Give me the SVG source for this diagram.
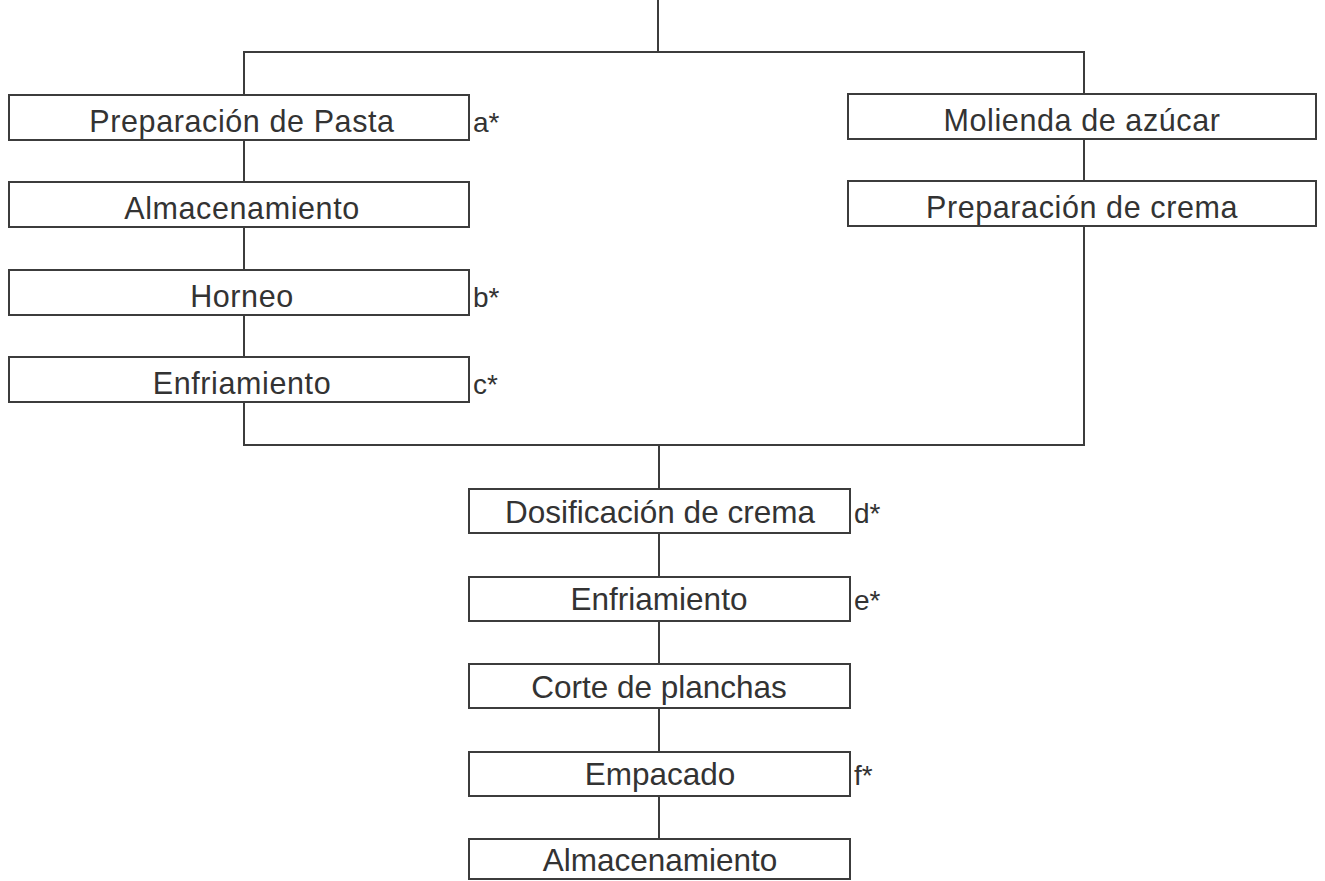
<svg xmlns="http://www.w3.org/2000/svg" width="1325" height="881" viewBox="0 0 1325 881">
<style>
.box{fill:#ffffff;stroke:#3c3c3c;stroke-width:2}
.ln{fill:none;stroke:#3c3c3c;stroke-width:2}
.t1{font-family:"Liberation Sans",Arial,sans-serif;font-size:30.5px;letter-spacing:0.6px;fill:#333;text-anchor:middle}
.t2{font-family:"Liberation Sans",Arial,sans-serif;font-size:31.5px;fill:#333;text-anchor:middle}
.lb{font-family:"Liberation Sans",Arial,sans-serif;font-size:28px;fill:#333}
</style>
<rect x="0" y="0" width="1325" height="881" fill="#ffffff"/>
<g id="connectors">
<path class="ln" d="M658,0 V52"/>
<path class="ln" d="M244,95 V52 H1084 V94"/>
<path class="ln" d="M244,140 V182"/>
<path class="ln" d="M244,227 V270"/>
<path class="ln" d="M244,315 V357"/>
<path class="ln" d="M244,402 V445 H1084 V226"/>
<path class="ln" d="M1084,139 V181"/>
<path class="ln" d="M659,445 V489"/>
<path class="ln" d="M659,533 V577"/>
<path class="ln" d="M659,621 V664"/>
<path class="ln" d="M659,708 V752"/>
<path class="ln" d="M659,796 V839"/>
</g>
<g id="n1"><rect class="box" x="9" y="95" width="460" height="45"/><text class="t1" x="242" y="132">Preparación de Pasta</text><text class="lb" x="473" y="132">a*</text></g>
<g id="n2"><rect class="box" x="9" y="182" width="460" height="45"/><text class="t1" x="242" y="219">Almacenamiento</text></g>
<g id="n3"><rect class="box" x="9" y="270" width="460" height="45"/><text class="t1" x="242" y="307">Horneo</text><text class="lb" x="473" y="307">b*</text></g>
<g id="n4"><rect class="box" x="9" y="357" width="460" height="45"/><text class="t1" x="242" y="394">Enfriamiento</text><text class="lb" x="473" y="394">c*</text></g>
<g id="n5"><rect class="box" x="848" y="94" width="468" height="45"/><text class="t1" x="1082" y="131">Molienda de azúcar</text></g>
<g id="n6"><rect class="box" x="848" y="181" width="468" height="45"/><text class="t1" x="1082" y="218">Preparación de crema</text></g>
<g id="n7"><rect class="box" x="469" y="489" width="381" height="44"/><text class="t2" x="660" y="523">Dosificación de crema</text><text class="lb" x="854" y="523">d*</text></g>
<g id="n8"><rect class="box" x="469" y="577" width="381" height="44"/><text class="t2" x="659" y="610">Enfriamiento</text><text class="lb" x="854" y="610">e*</text></g>
<g id="n9"><rect class="box" x="469" y="664" width="381" height="44"/><text class="t2" x="659" y="698">Corte de planchas</text></g>
<g id="n10"><rect class="box" x="469" y="752" width="381" height="44"/><text class="t2" x="660" y="785">Empacado</text><text class="lb" x="854" y="785">f*</text></g>
<g id="n11"><rect class="box" x="469" y="839" width="381" height="40"/><text class="t2" x="660" y="871">Almacenamiento</text></g>
</svg>
